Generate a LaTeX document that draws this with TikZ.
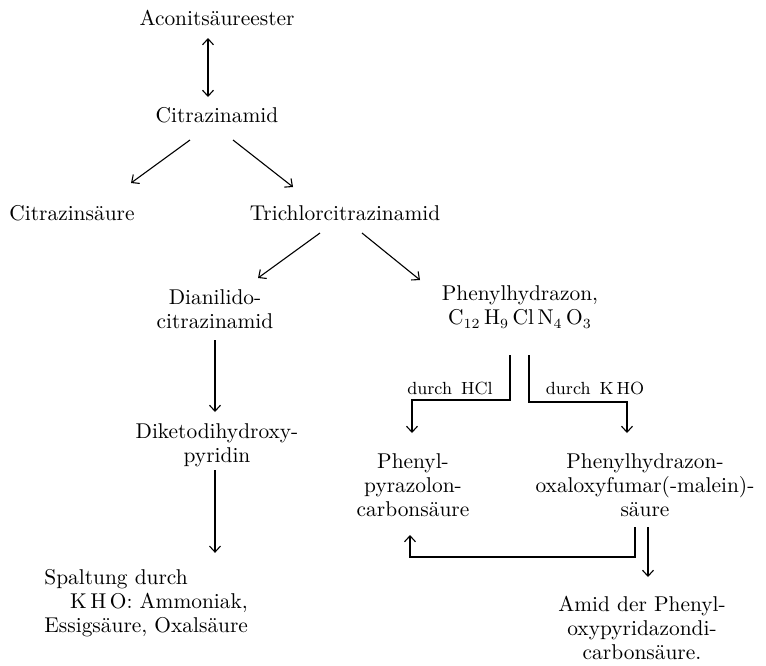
\documentclass[tikz,border=0pt]{standalone}
\usetikzlibrary{arrows.meta}
\begin{document}
\begin{tikzpicture}[x=0.5pt, y=-0.5pt,
          % Text styles
          stoff/.style={align=center, inner sep=2pt, font=\fontsize{10.7}{12}\selectfont},
          reagenz/.style={inner sep=1pt, font=\fontsize{8.8}{10}\selectfont},
          % Arrow styles
          pfeil/.style={-{Straight Barb[length=3pt,width=5.5pt]}, line width=0.55pt},
          doppelpfeil/.style={{Straight Barb[length=3pt,width=5.5pt]}-{Straight Barb[length=3pt,width=5.5pt]}, line width=0.55pt}
        ]
          \useasboundingbox (0,0) rectangle (766,665);
          % ==========================================
          % 1. Upper part: Aconitsaeureester -> Trichlorcitrazinamid
          % ==========================================
          \node[stoff] (aconit) at (217,18) {Aconitsäureester};
          \node[stoff] (citrazinamid) at (217,115) {Citrazinamid};
          \node[stoff] (citrazinsaeure) at (72,213) {Citrazinsäure};
          \node[stoff] (trichlor) at (345,213) {Trichlorcitrazinamid};

          % ==========================================
          % 2. Left branch
          % ==========================================
          \node[stoff] (dianilido) at (215,309) {Dianilido-\\citrazinamid};
          \node[stoff] (diketo) at (217,445) {Diketodihydroxy-\\pyridin};
          \node[stoff, align=left, anchor=west] (spaltung) at (40,603)
            {Spaltung durch\\\hspace*{1.2em}K\,H\,O: Ammoniak,\\Essigsäure, Oxalsäure};

          % ==========================================
          % 3. Right branch
          % ==========================================
          \node[stoff] (phenylhydrazon) at (520,307) {Phenylhydrazon,\\C$_{12}$\,H$_9$\,Cl\,N$_4$\,O$_3$};
          \node[stoff] (pyrazolon) at (413,485) {Phenyl-\\pyrazolon-\\carbonsäure};
          \node[stoff] (oxaloxy) at (645,485) {Phenylhydrazon-\\oxaloxyfumar(-malein)-\\säure};
          \node[stoff] (amid) at (642,628) {Amid der Phenyl-\\oxypyridazondi-\\carbonsäure.};
          \node[reagenz] (hcl) at (450,388) {durch\, HCl};
          \node[reagenz] (kho) at (595,388) {durch\, K\,HO};

          % ==========================================
          % 4. Edges
          % ==========================================
          \draw[doppelpfeil] ([shift={(-9,20)}]aconit.center) -- ([shift={(-9,-18)}]citrazinamid.center);
          \draw[pfeil] ([shift={(-27,25)}]citrazinamid.center) -- ([shift={(59,-30)}]citrazinsaeure.center);
          \draw[pfeil] ([shift={(16,25)}]citrazinamid.center) -- ([shift={(-52,-26)}]trichlor.center);
          \draw[pfeil] ([shift={(-25,20)}]trichlor.center) -- ([shift={(43,-31)}]dianilido.center);
          \draw[pfeil] ([shift={(17,20)}]trichlor.center) -- ([shift={(-100,-27)}]phenylhydrazon.center);

          % left column
          \draw[pfeil] ([shift={(0,31)}]dianilido.center) -- ([shift={(0,-33)}]diketo.center -| dianilido.center);
          \draw[pfeil, shorten >=6pt] ([shift={(-2,25)}]diketo.center) -- ([shift={(-2,0)}]diketo.center |- spaltung.north);

          % splitting below the phenylhydrazone
          \draw[pfeil] ([shift={(-10,48)}]phenylhydrazon.center) -- ++(0,45) -| ([shift={(-1,-52)}]pyrazolon.center);
          \draw[pfeil] ([shift={(9,48)}]phenylhydrazon.center) -- ++(0,47) -| ([shift={(-18,-52)}]oxaloxy.center);

          % from the oxaloxy acid
          \draw[pfeil] ([shift={(-10,42)}]oxaloxy.center) -- ++(0,30) -| ([shift={(-3,50)}]pyrazolon.center);
          \draw[pfeil] ([shift={(3,42)}]oxaloxy.center) -- ([shift={(6,-51)}]amid.center);
        \end{tikzpicture}
\end{document}
